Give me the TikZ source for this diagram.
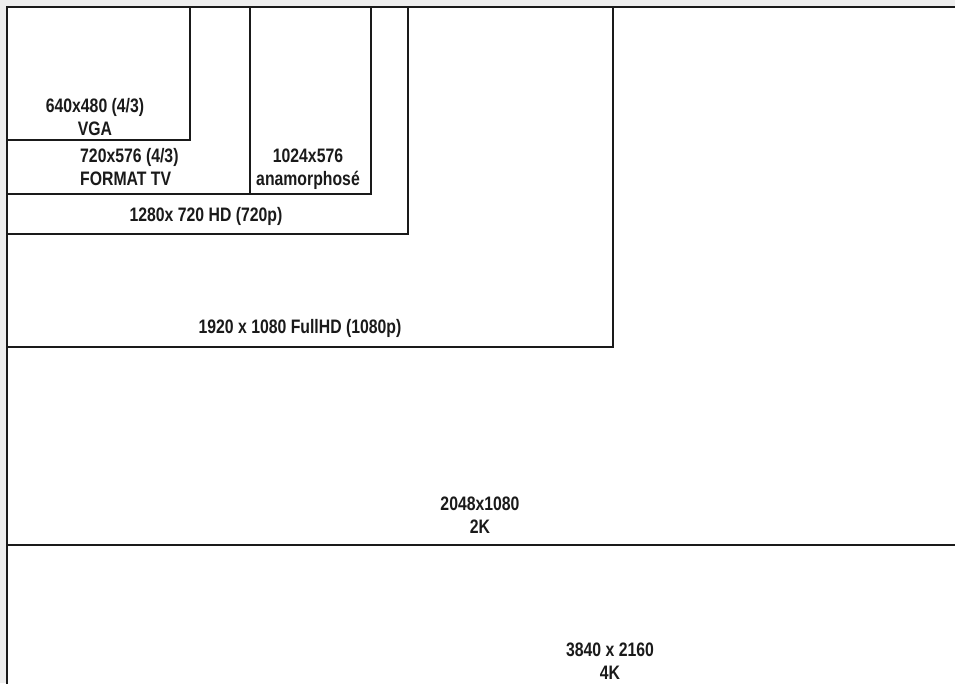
\documentclass[tikz,border=0pt]{standalone}
\usepackage{fontspec}
\setmainfont{Liberation Sans}[FakeStretch=0.81]
\usepackage{xcolor}
\definecolor{resbg}{HTML}{EEEEEE}
\definecolor{resline}{HTML}{1A1A1A}
\usetikzlibrary{positioning}
\tikzset{
  resframe/.style={draw=resline,line width=1.6pt},
  reslabel/.style={font=\bfseries\fontsize{19.5}{22.5}\selectfont,align=center,inner sep=0pt,text=resline},
}

\begin{document}
\begin{tikzpicture}[x=1pt,y=-1pt]
\useasboundingbox (0,0) rectangle (955,683);
\clip (0,0) rectangle (955,683);
\fill[resbg] (0,0) rectangle (955,683);
\fill[white] (7,7) rectangle (1000,720);
% frames, all from the top left corner
\draw[resframe] (7,720) |- (1000,7);
\draw[resframe] (7,7) rectangle (1000,545);
\draw[resframe] (7,7) rectangle (613,347);
\draw[resframe] (7,7) rectangle (408,234);
\draw[resframe] (7,7) rectangle (371,194);
\draw[resframe] (7,7) rectangle (250,194);
\draw[resframe] (7,7) rectangle (190,140);
% labels
\node[reslabel] (vga) at (95,117) {640x480 (4/3)\\VGA};
\node[reslabel,align=left,anchor=west] (tv) at (80,167) {720x576 (4/3)\\FORMAT TV};
\node[reslabel] (ana) at (308,169) {1024x576\\anamorphosé};
\node[reslabel] (hd) at (206,216) {1280x 720 HD (720p)};
\node[reslabel] (fhd) at (300,328) {1920 x 1080 FullHD (1080p)};
\node[reslabel] (twok) at (480,515) {2048x1080\\2K};
\node[reslabel] (fourk) at (610,661) {3840 x 2160\\4K};
\end{tikzpicture}
\end{document}
